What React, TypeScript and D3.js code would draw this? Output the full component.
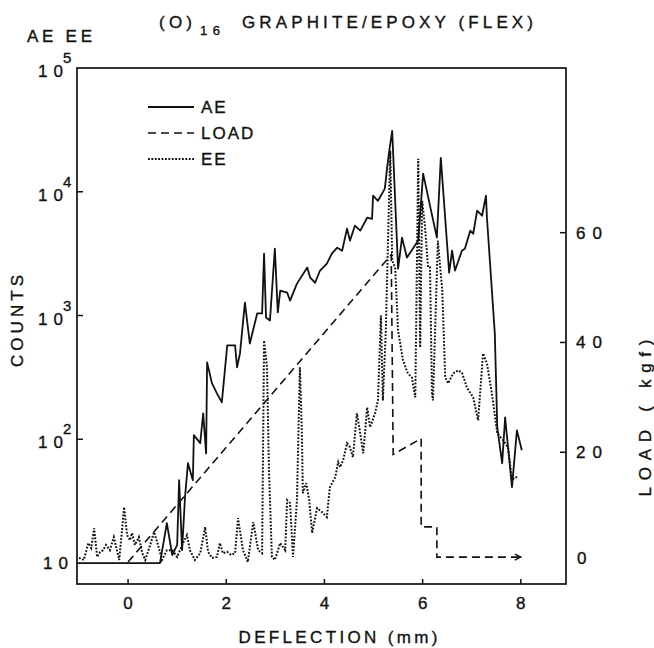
import React from 'react';
import * as d3 from 'd3';

// Acoustic emission counts vs deflection (mm, counts)
const aeReadings: [number, number][] = [
  [-1.04, 10], [0.65, 10], [0.79, 21], [0.9, 11.6], [1.0, 14], [1.04, 46.7], [1.1, 12.7],
  [1.16, 34], [1.22, 64], [1.32, 46.7], [1.34, 108], [1.47, 93], [1.53, 162], [1.59, 77],
  [1.61, 418], [1.71, 283], [1.81, 235], [1.91, 199], [2.02, 573], [2.18, 573], [2.22, 381],
  [2.28, 494], [2.38, 1270], [2.48, 594], [2.63, 1040], [2.73, 1040], [2.77, 3160], [2.81, 964],
  [2.89, 912], [2.99, 3470], [3.05, 1060], [3.1, 1590], [3.24, 1530], [3.3, 1320], [3.44, 1810],
  [3.65, 2440], [3.71, 2020], [3.81, 1840], [3.91, 2310], [4.05, 2630], [4.15, 3160], [4.26, 3530],
  [4.36, 3340], [4.46, 5040], [4.52, 4030], [4.62, 5320], [4.73, 4850], [4.87, 6170], [4.97, 6050],
  [4.99, 9290], [5.09, 8450], [5.23, 10600], [5.27, 14800], [5.32, 21400], [5.38, 31000],
  [5.5, 2390], [5.58, 4260], [5.68, 2940], [5.91, 4030], [6.01, 14000], [6.29, 4260], [6.37, 18800],
  [6.54, 2220], [6.6, 3340], [6.66, 2310], [6.8, 3340], [6.86, 3470], [6.97, 4850], [7.03, 4580],
  [7.11, 7030], [7.21, 6400], [7.29, 9290], [7.31, 6170], [7.47, 716], [7.52, 125], [7.62, 64],
  [7.68, 150], [7.74, 86], [7.82, 41], [7.92, 118], [8.02, 81.5],
];

// Exo-electron emission counts vs deflection (mm, counts)
const eeReadings: [number, number][] = [
  [-1.0, 11], [-0.9, 10.6], [-0.81, 14.5], [-0.75, 13.2], [-0.69, 19.1], [-0.63, 11.2], [-0.57, 12.3],
  [-0.51, 12.7], [-0.45, 14], [-0.37, 12.7], [-0.29, 16.2], [-0.18, 10.6], [-0.08, 28.3], [-0.02, 16.8],
  [0.04, 15.3], [0.08, 17.5], [0.14, 14], [0.22, 16.2], [0.29, 12], [0.35, 10.6], [0.45, 14],
  [0.53, 17.8], [0.61, 14], [0.69, 10.6], [0.79, 12.7], [0.9, 12.7], [1.0, 11.2], [1.12, 14.5],
  [1.2, 16.8], [1.26, 12.7], [1.36, 10.6], [1.47, 12], [1.57, 19.5], [1.63, 12.3], [1.71, 11],
  [1.81, 11.2], [1.87, 14.5], [1.93, 12], [2.02, 12.3], [2.1, 11.6], [2.18, 12], [2.24, 23.1],
  [2.34, 12.7], [2.44, 10.2], [2.55, 21.4], [2.65, 12.7], [2.73, 12], [2.77, 628], [2.83, 381],
  [2.87, 56], [2.93, 11.2], [2.99, 10.6], [3.1, 14.5], [3.2, 12.7], [3.24, 32.2], [3.3, 30.5],
  [3.36, 11.2], [3.44, 32.2], [3.5, 381], [3.54, 118], [3.56, 36.7], [3.63, 44.2], [3.69, 32.2],
  [3.75, 17.5], [3.85, 27.8], [3.95, 25.8], [4.05, 23.5], [4.11, 41], [4.22, 49.4], [4.28, 65.3],
  [4.32, 59.4], [4.38, 67.7], [4.46, 92.9], [4.52, 86.2], [4.58, 71.6], [4.66, 162], [4.72, 118],
  [4.79, 77.1], [4.87, 181], [4.93, 125], [5.03, 162], [5.09, 206], [5.15, 1000], [5.19, 206],
  [5.25, 757], [5.34, 21400], [5.38, 2780], [5.44, 2440], [5.5, 757], [5.6, 434], [5.7, 340],
  [5.78, 316], [5.85, 218], [5.91, 18500], [5.95, 552], [5.99, 8450], [6.05, 5130], [6.11, 2440],
  [6.15, 2440], [6.19, 235], [6.21, 206], [6.31, 4030], [6.4, 1590], [6.46, 316], [6.52, 283],
  [6.62, 340], [6.72, 360], [6.8, 347], [6.9, 262], [7.03, 218], [7.13, 142], [7.23, 494],
  [7.31, 410], [7.41, 235], [7.52, 112], [7.64, 98], [7.74, 86], [7.82, 46.7], [7.88, 49.4],
  [7.94, 49.4],
];

// Applied load vs deflection (mm, kgf)
const loadReadings: [number, number][] = [
  [0, 0], [5.36, 56], [5.4, 19.6], [5.97, 22.5], [5.97, 6.4], [6.29, 6.4], [6.29, 0.9], [8.0, 0.9],
];

const deflectionTicks = [0, 2, 4, 6, 8];
const countTicks = [
  { value: 10, exp: '' },
  { value: 100, exp: '2' },
  { value: 1000, exp: '3' },
  { value: 10000, exp: '4' },
  { value: 100000, exp: '5' },
];
const loadTicks = [0, 20, 40, 60];

const legendItems = [
  { label: 'AE', dash: 'none', width: 1.8 },
  { label: 'LOAD', dash: '8 5', width: 1.6 },
  { label: 'EE', dash: '1.8 1.6', width: 2 },
];

const W = 654;
const H = 648;
const left = 77;
const right = 566;
const top = 68;
const bottom = 584;
const FONT = "'Liberation Sans', Arial, Helvetica, sans-serif";
const INK = '#111';
const FS = 17;
const textInk = { fill: INK, stroke: INK, strokeWidth: 0.35 };

export default function App() {
  const x = d3.scaleLinear().domain([-1.04, 8.92]).range([left, right]);
  const yCounts = d3
    .scaleLog()
    .domain([Math.pow(10, 1 - 21 / 124), 1e5])
    .range([bottom, top]);
  const yLoad = d3.scaleLinear().domain([-4, 90]).range([bottom, top]);

  const countLine = d3
    .line<[number, number]>()
    .x((d) => x(d[0]))
    .y((d) => yCounts(d[1]));
  const loadLine = d3
    .line<[number, number]>()
    .x((d) => x(d[0]))
    .y((d) => yLoad(d[1]));

  const lastLoad = loadReadings[loadReadings.length - 1];
  const ax = x(lastLoad[0]);
  const ay = yLoad(lastLoad[1]);

  return (
    <svg
      width={W}
      height={H}
      viewBox={`0 0 ${W} ${H}`}
      style={{ position: 'absolute', left: 0, top: 0, display: 'block', background: '#fff' }}
      fontFamily={FONT}
    >
      <defs>
        <clipPath id="plotArea">
          <rect x={left} y={top} width={right - left} height={bottom - top} />
        </clipPath>
      </defs>

      {/* title */}
      <text x={159} y={28} fontSize={FS} {...textInk} textLength={33} lengthAdjust="spacing">
        (O)
      </text>
      <text x={200} y={35} fontSize={13} {...textInk} textLength={20} lengthAdjust="spacing">
        16
      </text>
      <text x={242} y={28} fontSize={FS} {...textInk} textLength={291} lengthAdjust="spacing">
        GRAPHITE/EPOXY (FLEX)
      </text>

      <text x={27} y={42} fontSize={FS} {...textInk} textLength={65} lengthAdjust="spacing">
        AE EE
      </text>

      {/* frame */}
      <rect x={left} y={top} width={right - left} height={bottom - top} fill="none" stroke={INK} strokeWidth={1.7} />

      {/* deflection axis */}
      {deflectionTicks.map((t) => (
        <g key={`xt${t}`}>
          <line x1={x(t)} x2={x(t)} y1={bottom} y2={bottom - 5} stroke={INK} strokeWidth={1.5} />
          <text x={x(t)} y={609} fontSize={FS} {...textInk} textAnchor="middle">
            {t}
          </text>
        </g>
      ))}
      <text x={338} y={643} fontSize={FS} {...textInk} textAnchor="middle" textLength={199} lengthAdjust="spacing">
        DEFLECTION (mm)
      </text>

      {/* counts axis */}
      {countTicks.map((t) => {
        const ty = yCounts(t.value);
        if (t.exp === '') {
          return (
            <text key="c1" x={43} y={ty + 6} fontSize={FS} {...textInk} textLength={25} lengthAdjust="spacing">
              10
            </text>
          );
        }
        return (
          <g key={`ct${t.exp}`}>
            {t.value < 1e5 && (
              <line x1={left} x2={left + 6} y1={ty} y2={ty} stroke={INK} strokeWidth={1.5} />
            )}
            <text x={38} y={ty + 9} fontSize={FS} {...textInk} textLength={25} lengthAdjust="spacing">
              10
            </text>
            <text x={63} y={ty - 5} fontSize={15} {...textInk}>
              {t.exp}
            </text>
          </g>
        );
      })}
      <text
        transform="translate(23,321) rotate(-90)"
        fontSize={FS}
        {...textInk}
        textAnchor="middle"
        textLength={92}
        lengthAdjust="spacing"
      >
        COUNTS
      </text>

      {/* load axis */}
      {loadTicks.map((t) => (
        <g key={`lt${t}`}>
          {t > 0 && (
            <line x1={right} x2={right - 6} y1={yLoad(t)} y2={yLoad(t)} stroke={INK} strokeWidth={1.5} />
          )}
          <text
            x={t === 0 ? 577 : 576}
            y={yLoad(t) + (t === 0 ? 2 : 6)}
            fontSize={FS}
            {...textInk}
            textLength={t === 0 ? 9 : 26}
            lengthAdjust="spacing"
          >
            {t}
          </text>
        </g>
      ))}
      <text
        transform="translate(651,418) rotate(-90)"
        fontSize={FS}
        {...textInk}
        textAnchor="middle"
        textLength={157}
        lengthAdjust="spacing"
      >
        LOAD ( kgf)
      </text>

      {/* series */}
      <g clipPath="url(#plotArea)" fill="none">
        <path d={countLine(eeReadings) ?? ''} stroke={INK} strokeWidth={2} strokeDasharray="1.8 1.6" />
        <path d={loadLine(loadReadings) ?? ''} stroke={INK} strokeWidth={1.6} strokeDasharray="8 5" />
        <path d={countLine(aeReadings) ?? ''} stroke={INK} strokeWidth={1.8} strokeLinejoin="round" />
        <path d={`M${ax - 6},${ay - 3}L${ax},${ay}L${ax - 6},${ay + 3}`} stroke={INK} strokeWidth={1.4} />
      </g>

      {/* legend */}
      {legendItems.map((item, i) => {
        const ly = 107 + i * 26;
        return (
          <g key={item.label}>
            <line
              x1={148}
              x2={194}
              y1={ly}
              y2={ly}
              stroke={INK}
              strokeWidth={item.width}
              strokeDasharray={item.dash}
            />
            <text x={201} y={ly + 6} fontSize={FS} {...textInk} letterSpacing={2}>
              {item.label}
            </text>
          </g>
        );
      })}
    </svg>
  );
}
